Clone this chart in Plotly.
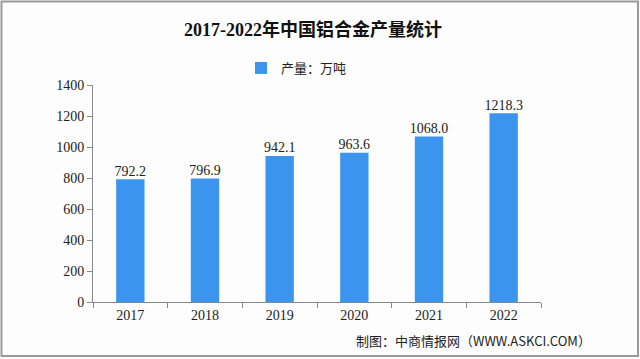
import plotly.graph_objects as go

years = ["2017", "2018", "2019", "2020", "2021", "2022"]
output = [792.2, 796.9, 942.1, 963.6, 1068.0, 1218.3]
labels = ["792.2", "796.9", "942.1", "963.6", "1068.0", "1218.3"]
y_ticks = [0, 200, 400, 600, 800, 1000, 1200, 1400]

W, H = 640, 359
L, R, T, B = 93, 99, 85, 57
pw, ph = W - L - R, H - T - B

num_font = "Liberation Serif, DejaVu Serif, serif"
cjk_font = "Noto Sans CJK SC, sans-serif"

fig = go.Figure()
fig.add_trace(go.Bar(
    x=years, y=output, name="产量：万吨",
    marker=dict(color="#3b95ee", line=dict(width=0)),
    width=0.38,
))
fig.add_trace(go.Scatter(
    x=years, y=output, mode="text", text=labels, textposition="top center",
    textfont=dict(family=num_font, size=14, color="#222222"),
    showlegend=False, cliponaxis=False, hoverinfo="skip",
))

fig.update_layout(
    width=W, height=H,
    margin=dict(l=L, r=R, t=T, b=B),
    paper_bgcolor="#fdfdfd", plot_bgcolor="#fdfdfd",
    title=dict(text="<b>2017-2022年中国铝合金产量统计</b>", x=(313 - L) / pw, xanchor="center",
               xref="paper", y=1 - 30 / H, yanchor="middle",
               font=dict(family="Liberation Serif, " + cjk_font, size=18, color="#111111")),
    showlegend=True,
    legend=dict(orientation="h", x=(241 - L) / pw, xanchor="left",
                y=1 + (T - 68) / ph, yanchor="middle",
                font=dict(family=cjk_font, size=13, color="#222222"),
                bgcolor="rgba(0,0,0,0)", itemwidth=30),
    xaxis=dict(type="category", showline=True, linecolor="#888888", linewidth=1,
               ticks="outside", tickson="boundaries", ticklen=5, tickcolor="#888888",
               tickfont=dict(family=num_font, size=14, color="#222222"),
               showgrid=False, zeroline=False),
    yaxis=dict(range=[0, 1400], tickvals=y_ticks, showline=True, linecolor="#888888",
               linewidth=1, ticks="outside", ticklen=5, tickcolor="#888888",
               tickfont=dict(family=num_font, size=14, color="#222222"),
               showgrid=False, zeroline=False),
)

fig.add_annotation(text="制图：中商情报网（WWW.ASKCI.COM）", xref="paper", yref="paper",
                   x=(593 - L) / pw, y=-(340 - (H - B)) / ph, xanchor="right", yanchor="middle",
                   showarrow=False, font=dict(family=cjk_font, size=13, color="#222222"))

# outer frame
fig.add_shape(type="rect", xref="paper", yref="paper",
              x0=(1.5 - L) / pw, x1=(W - 2 - L) / pw,
              y0=-(H - 3 - (H - B)) / ph, y1=1 + (T - 1.5) / ph,
              line=dict(color="#9a9a9a", width=2), layer="above")

fig.write_html("out.html", config={"displayModeBar": False},
               post_script="document.body.style.margin='0';document.body.style.overflow='hidden';")
